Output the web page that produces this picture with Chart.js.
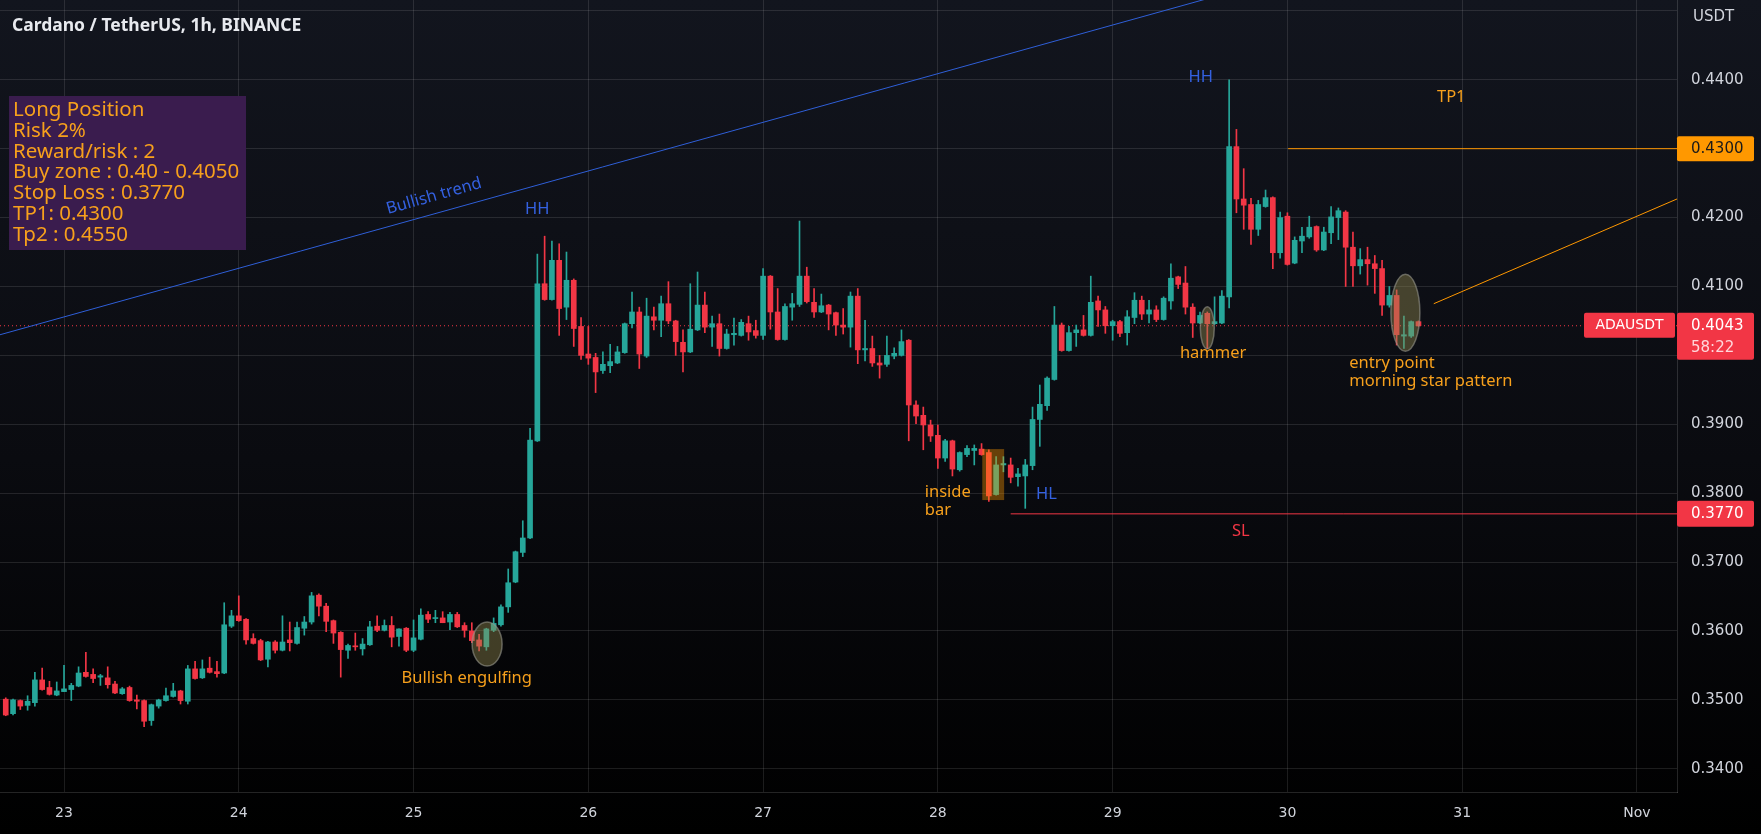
<!DOCTYPE html>
<html>
<head>
<meta charset="utf-8">
<script src="https://cdn.jsdelivr.net/npm/chart.js@4.4.1/dist/chart.umd.min.js"></script>
<style>
  html, body { margin: 0; padding: 0; background: #000; }
  #wrap { width: 1761px; height: 834px; background: linear-gradient(to bottom, #12151e 0%, #0a0b10 55%, #000 100%); }
</style>
</head>
<body>
<div id="wrap"><canvas id="chart"></canvas></div>
<script>
// ADA/USDT 1h candles, 22 Oct 16:00 -> 30 Oct 18:00
const opens = [
  .3501,.3480,.3499,.3492,.3496,.3529,.3518,.3507,.3512,.3515,.3520,.3540,.3537,.3533,.3532,.3523,.3509,.3518,.3500,.3499,
  .3470,.3491,.3499,.3505,.3513,.3498,.3545,.3532,.3546,.3541,.3539,.3607,.3622,.3617,.3589,.3586,.3559,.3584,.3572,.3587,
  .3582,.3604,.3613,.3652,.3636,.3615,.3598,.3572,.3578,.3574,.3580,.3607,.3601,.3608,.3592,.3604,.3572,.3588,.3624,.3618,
  .3619,.3613,.3624,.3608,.3600,.3587,.3577,.3601,.3609,.3635,.3671,.3714,.3735,.3876,.4104,.4081,.4138,.4070,.4109,.4042,
  .4002,.3997,.3978,.3985,.3989,.4004,.4046,.4063,.3999,.4056,.4051,.4075,.4050,.4019,.4005,.4037,.4073,.4041,.4046,.4010,
  .4030,.4029,.4046,.4036,.4029,.4115,.4063,.4023,.4070,.4074,.4115,.4077,.4063,.4073,.4062,.4044,.4041,.4086,.4008,.4010,
  .3989,.3987,.3999,.4000,.4022,.3928,.3913,.3899,.3884,.3851,.3876,.3834,.3856,.3862,.3864,.3859,.3798,.3841,.3841,.3824,
  .3825,.3840,.3907,.3927,.3965,.4044,.4007,.4033,.4037,.4029,.4079,.4066,.4043,.4049,.4033,.4055,.4080,.4060,.4066,.4052,
  .4079,.4114,.4105,.4070,.4047,.4061,.4046,.4047,.4085,.4303,.4227,.4219,.4183,.4216,.4229,.4149,.4202,.4134,.4166,.4172,
  .4187,.4153,.4178,.4200,.4208,.4157,.4130,.4139,.4133,.4126,.4073,.4087,.4028,.4028,.4049
];
const highs = [
  .3503,.3501,.3500,.3506,.3540,.3546,.3527,.3526,.3550,.3524,.3548,.3569,.3545,.3537,.3548,.3527,.3518,.3520,.3507,.3500,
  .3494,.3501,.3517,.3524,.3514,.3550,.3556,.3558,.3562,.3556,.3641,.3630,.3651,.3618,.3596,.3588,.3585,.3586,.3622,.3613,
  .3613,.3621,.3656,.3654,.3640,.3616,.3599,.3581,.3597,.3589,.3614,.3622,.3616,.3621,.3603,.3605,.3616,.3632,.3628,.3630,
  .3628,.3627,.3627,.3612,.3612,.3595,.3604,.3619,.3638,.3690,.3716,.3760,.3894,.4147,.4173,.4166,.4162,.4150,.4111,.4055,
  .4042,.4003,.4005,.4016,.4013,.4047,.4092,.4070,.4083,.4070,.4086,.4107,.4051,.4037,.4104,.4121,.4092,.4057,.4060,.4038,
  .4054,.4052,.4057,.4051,.4126,.4116,.4097,.4075,.4090,.4195,.4128,.4097,.4089,.4074,.4063,.4068,.4092,.4097,.4051,.4028,
  .4000,.4028,.4011,.4037,.4023,.3934,.3925,.3906,.3899,.3878,.3877,.3860,.3869,.3870,.3872,.3863,.3853,.3853,.3851,.3836,
  .3849,.3925,.3957,.3969,.4071,.4047,.4042,.4044,.4058,.4115,.4086,.4071,.4051,.4051,.4065,.4091,.4086,.4080,.4072,.4085,
  .4133,.4115,.4129,.4075,.4063,.4063,.4085,.4094,.4400,.4328,.4271,.4228,.4225,.4240,.4230,.4208,.4207,.4172,.4186,.4202,
  .4188,.4186,.4216,.4214,.4210,.4179,.4155,.4157,.4145,.4138,.4100,.4095,.4057,.4050,.4050
];
const lows = [
  .3477,.3478,.3486,.3485,.3491,.3514,.3507,.3506,.3512,.3499,.3519,.3533,.3525,.3521,.3517,.3509,.3508,.3498,.3487,.3461,
  .3463,.3488,.3498,.3504,.3494,.3494,.3530,.3531,.3539,.3533,.3538,.3605,.3614,.3581,.3581,.3557,.3548,.3568,.3571,.3571,
  .3581,.3594,.3610,.3622,.3599,.3582,.3533,.3560,.3572,.3565,.3579,.3599,.3600,.3577,.3578,.3570,.3570,.3587,.3612,.3612,
  .3612,.3602,.3605,.3591,.3583,.3571,.3572,.3599,.3607,.3627,.3670,.3708,.3734,.3875,.4080,.4080,.4029,.4052,.4013,.3994,
  .3987,.3946,.3974,.3975,.3988,.4003,.4040,.3981,.3997,.4037,.4027,.4046,.4000,.3976,.4004,.4036,.4033,.4013,.3999,.4009,
  .4015,.4028,.4022,.4025,.4023,.4038,.4022,.4022,.4051,.4071,.4076,.4055,.4062,.4037,.4029,.4031,.4012,.3988,.3992,.3984,
  .3967,.3984,.3995,.3999,.3876,.3901,.3863,.3875,.3836,.3846,.3825,.3832,.3853,.3841,.3855,.3788,.3797,.3831,.3815,.3810,
  .3778,.3834,.3868,.3920,.3964,.4006,.4006,.4013,.4028,.4028,.4042,.4032,.4022,.4027,.4015,.4046,.4052,.4047,.4049,.4051,
  .4067,.4097,.4060,.4026,.4046,.4010,.4045,.4046,.4069,.4207,.4183,.4161,.4174,.4215,.4126,.4141,.4131,.4133,.4149,.4170,
  .4151,.4152,.4162,.4168,.4100,.4100,.4118,.4102,.4090,.4058,.4070,.4015,.4010,.4026,.4042
];
const closes = [
  .3478,.3500,.3491,.3498,.3529,.3515,.3508,.3513,.3516,.3521,.3539,.3534,.3531,.3535,.3522,.3510,.3516,.3499,.3498,.3469,
  .3493,.3500,.3506,.3513,.3499,.3545,.3531,.3545,.3540,.3538,.3609,.3622,.3615,.3587,.3582,.3558,.3584,.3572,.3584,.3583,
  .3605,.3613,.3651,.3636,.3614,.3597,.3573,.3579,.3577,.3581,.3606,.3601,.3608,.3591,.3603,.3572,.3590,.3623,.3617,.3619,
  .3612,.3624,.3606,.3601,.3586,.3578,.3603,.3611,.3635,.3670,.3715,.3735,.3877,.4104,.4081,.4138,.4068,.4109,.4039,.4000,
  .3996,.3976,.3987,.3991,.4005,.4046,.4063,.4002,.4057,.4051,.4075,.4050,.4020,.4005,.4038,.4073,.4041,.4046,.4010,.4031,
  .4032,.4048,.4034,.4029,.4115,.4063,.4023,.4071,.4075,.4115,.4078,.4063,.4072,.4060,.4044,.4041,.4086,.4008,.4010,.3989,
  .3986,.4000,.4003,.4020,.3928,.3912,.3899,.3883,.3851,.3876,.3835,.3859,.3865,.3865,.3856,.3796,.3841,.3843,.3823,.3828,
  .3841,.3907,.3929,.3967,.4044,.4007,.4033,.4037,.4029,.4077,.4066,.4043,.4049,.4032,.4056,.4080,.4060,.4066,.4052,.4083,
  .4112,.4103,.4070,.4047,.4058,.4046,.4049,.4086,.4303,.4227,.4218,.4183,.4219,.4229,.4149,.4200,.4132,.4167,.4173,.4186,
  .4153,.4179,.4201,.4210,.4157,.4130,.4139,.4133,.4126,.4073,.4087,.4030,.4030,.4049,.4043
];

// x axis: hours after 23 Oct 00:00
const firstHour = -8;
const dayTicks = [0, 24, 48, 72, 96, 120, 144, 168, 192, 216];
const dayLabels = ['23', '24', '25', '26', '27', '28', '29', '30', '31', 'Nov'];
const priceTicks = [0.34, 0.35, 0.36, 0.37, 0.38, 0.39, 0.40, 0.41, 0.42, 0.43, 0.44, 0.45];

const lastPrice = 0.4043;
const countdown = '58:22';
const tp1 = 0.4300;
const stopLoss = 0.3770;
const trendLine = [{ x: -10, y: 0.40264 }, { x: 170, y: 0.4556 }];
const targetLine = [{ x: 188.1, y: 0.4075 }, { x: 221.5, y: 0.4227 }];

const infoLines = ['Long Position', 'Risk 2%', 'Reward/risk : 2', 'Buy zone : 0.40 - 0.4050',
  'Stop Loss : 0.3770', 'TP1: 0.4300', 'Tp2 : 0.4550'];

const xMin = -8.79, xMax = 221.5;
const yMin = 0.33663, yMax = 0.45158;

const green = '#26a69a', red = '#f23645', orange = '#f7a01c', blue = '#3461e0';
const textColor = '#d1d4dc';
const gridColor = 'rgba(255,255,255,0.11)';
const font = '"Noto Sans", "DejaVu Sans", sans-serif';
const axisFont = '"DejaVu Sans", sans-serif';

const notes = [
  { text: 'HH', x: 65, y: 0.4212, color: blue },
  { text: 'HH', x: 156.1, y: 0.4404, color: blue },
  { text: 'HL', x: 134.9, y: 0.3799, color: blue },
  { text: 'Bullish engulfing', x: 55.3, y: 0.3532, color: orange },
  { text: 'hammer', x: 157.8, y: 0.4003, color: orange },
  { text: 'inside', x: 118.2, y: 0.3801, color: orange, align: 'left' },
  { text: 'bar', x: 118.2, y: 0.3775, color: orange, align: 'left' },
  { text: 'entry point', x: 176.5, y: 0.3989, color: orange, align: 'left' },
  { text: 'morning star pattern', x: 176.5, y: 0.3963, color: orange, align: 'left' },
  { text: 'SL', x: 161.6, y: 0.3745, color: red },
  { text: 'TP1', x: 190.5, y: 0.4375, color: orange }
];
const ellipses = [
  { x: 58.1, y: 0.3581, rx: 15, ry: 22 },
  { x: 157.0, y: 0.4040, rx: 7, ry: 21 },
  { x: 184.2, y: 0.4062, rx: 14.5, ry: 38.5 }
];
const insideBox = { x0: 126.1, x1: 129.1, y0: 0.3864, y1: 0.3790 };

const hours = opens.map((_, i) => firstHour + i);
const candleColors = opens.map((o, i) => closes[i] >= o ? green : red);
const wickData = hours.map((h, i) => ({ x: h, y: [lows[i], highs[i]] }));
const bodyData = hours.map((h, i) => ({ x: h, y: [opens[i], closes[i]] }));

function roundRect(c, x, y, w, h, r) {
  c.beginPath();
  c.moveTo(x + r, y);
  c.arcTo(x + w, y, x + w, y + h, r);
  c.arcTo(x + w, y + h, x, y + h, r);
  c.arcTo(x, y + h, x, y, r);
  c.arcTo(x, y, x + w, y, r);
  c.closePath();
}

const drawings = {
  id: 'drawings',
  afterDatasetsDraw(chart) {
    const c = chart.ctx, xs = chart.scales.x, ys = chart.scales.y;
    const area = chart.chartArea;
    c.save();
    c.beginPath();
    c.rect(area.left, area.top, area.right - area.left, area.bottom - area.top);
    c.clip();

    // inside bar box
    const bx0 = xs.getPixelForValue(insideBox.x0), bx1 = xs.getPixelForValue(insideBox.x1);
    const by0 = ys.getPixelForValue(insideBox.y0), by1 = ys.getPixelForValue(insideBox.y1);
    c.fillStyle = 'rgba(255,152,0,0.38)';
    c.fillRect(bx0, by0, bx1 - bx0, by1 - by0);

    // ellipses
    ellipses.forEach(e => {
      c.beginPath();
      c.ellipse(xs.getPixelForValue(e.x), ys.getPixelForValue(e.y), e.rx, e.ry, 0, 0, Math.PI * 2);
      c.fillStyle = 'rgba(150,140,80,0.42)';
      c.fill();
      c.strokeStyle = 'rgba(150,150,140,0.6)';
      c.lineWidth = 1.5;
      c.stroke();
    });

    // text notes
    c.font = '16.5px ' + font;
    c.textBaseline = 'middle';
    notes.forEach(n => {
      c.fillStyle = n.color;
      c.textAlign = n.align || 'center';
      c.fillText(n.text, xs.getPixelForValue(n.x), ys.getPixelForValue(n.y));
    });

    // trend label, rotated along the line
    c.save();
    c.translate(xs.getPixelForValue(50.8), ys.getPixelForValue(0.4231));
    c.rotate(-15.8 * Math.PI / 180);
    c.fillStyle = blue;
    c.textAlign = 'center';
    c.fillText('Bullish trend', 0, 0);
    c.restore();

    // title
    c.fillStyle = '#e8eaef';
    c.textAlign = 'left';
    c.textBaseline = 'alphabetic';
    c.font = 'bold 17.5px ' + font;
    c.fillText('Cardano / TetherUS, 1h, BINANCE', 12, 31);

    // info box
    c.fillStyle = '#3a1c4e';
    c.fillRect(9, 96, 237, 154);
    c.fillStyle = orange;
    c.font = '20.5px ' + font;
    infoLines.forEach((t, i) => c.fillText(t, 13, 116 + i * 20.8));
    c.restore();
  },
  afterDraw(chart) {
    const c = chart.ctx, ys = chart.scales.y;
    const left = chart.chartArea.right;
    c.save();
    c.textBaseline = 'middle';
    c.textAlign = 'left';
    c.font = '15px ' + axisFont;

    c.fillStyle = textColor;
    c.fillText('USDT', left + 16, 17);

    const yTp = ys.getPixelForValue(tp1);
    roundRect(c, left, yTp - 12.5, 77, 25, 2);
    c.fillStyle = '#ff9800';
    c.fill();
    c.fillStyle = '#1a1a1a';
    c.fillText(tp1.toFixed(4), left + 14, yTp);

    const ySl = ys.getPixelForValue(stopLoss);
    roundRect(c, left, ySl - 13, 77, 26, 2);
    c.fillStyle = red;
    c.fill();
    c.fillStyle = '#ffffff';
    c.fillText(stopLoss.toFixed(4), left + 14, ySl);

    const yLp = ys.getPixelForValue(lastPrice);
    roundRect(c, left, yLp - 13, 77, 47, 2);
    c.fillStyle = red;
    c.fill();
    c.fillStyle = '#ffffff';
    c.fillText(lastPrice.toFixed(4), left + 14, yLp);
    c.fillStyle = '#ffd6da';
    c.fillText(countdown, left + 14, yLp + 22);

    roundRect(c, left - 93, yLp - 13, 91, 25, 2);
    c.fillStyle = red;
    c.fill();
    c.fillStyle = '#ffffff';
    c.textAlign = 'center';
    c.font = '14px ' + axisFont;
    c.fillText('ADAUSDT', left - 47.5, yLp);
    c.restore();
  }
};

new Chart(document.getElementById('chart'), {
  type: 'bar',
  data: {
    datasets: [
      { type: 'line', label: 'Bullish trend', data: trendLine, borderColor: '#2f5fd8', borderWidth: 1, pointRadius: 0, order: 1 },
      { type: 'line', label: 'TP1', data: [{ x: 168.1, y: tp1 }, { x: xMax, y: tp1 }], borderColor: '#ff9800', borderWidth: 1, pointRadius: 0, order: 1 },
      { type: 'line', label: 'SL', data: [{ x: 130, y: stopLoss }, { x: xMax, y: stopLoss }], borderColor: red, borderWidth: 1, pointRadius: 0, order: 1 },
      { type: 'line', label: 'Target', data: targetLine, borderColor: '#ff9800', borderWidth: 1, pointRadius: 0, order: 1 },
      { label: 'Body', data: bodyData, backgroundColor: candleColors, barThickness: 5, minBarLength: 1, grouped: false, order: 3 },
      { label: 'Wick', data: wickData, backgroundColor: candleColors, barThickness: 1, minBarLength: 1, grouped: false, order: 4 },
      { type: 'line', label: 'Last', data: [{ x: xMin, y: lastPrice }, { x: xMax, y: lastPrice }], borderColor: red, borderWidth: 1, borderDash: [1, 3], pointRadius: 0, order: 9 }
    ]
  },
  options: {
    responsive: true,
    maintainAspectRatio: false,
    animation: false,
    layout: { padding: 0 },
    plugins: { legend: { display: false }, tooltip: { enabled: false } },
    scales: {
      x: {
        type: 'linear', min: xMin, max: xMax, offset: false,
        grid: { color: gridColor, drawTicks: false, offset: false },
        border: { color: 'rgba(255,255,255,0.14)' },
        ticks: { color: textColor, font: { family: axisFont, size: 14 }, padding: 13, maxRotation: 0, autoSkip: false,
          callback: (v, i) => dayLabels[i] },
        afterBuildTicks: a => { a.ticks = dayTicks.map(v => ({ value: v })); },
        afterFit: a => { a.height = 42; a.paddingLeft = 0; a.paddingRight = 0; }
      },
      y: {
        position: 'right', min: yMin, max: yMax,
        grid: { color: gridColor, drawTicks: false },
        border: { color: 'rgba(255,255,255,0.14)' },
        ticks: { color: textColor, font: { family: axisFont, size: 15 }, padding: 14,
          callback: v => v > 0.449 ? '' : v.toFixed(4) },
        afterBuildTicks: a => { a.ticks = priceTicks.map(v => ({ value: v })); },
        afterFit: a => { a.width = 84; a.paddingTop = 0; a.paddingBottom = 0; }
      }
    }
  },
  plugins: [drawings]
});
</script>
</body>
</html>
